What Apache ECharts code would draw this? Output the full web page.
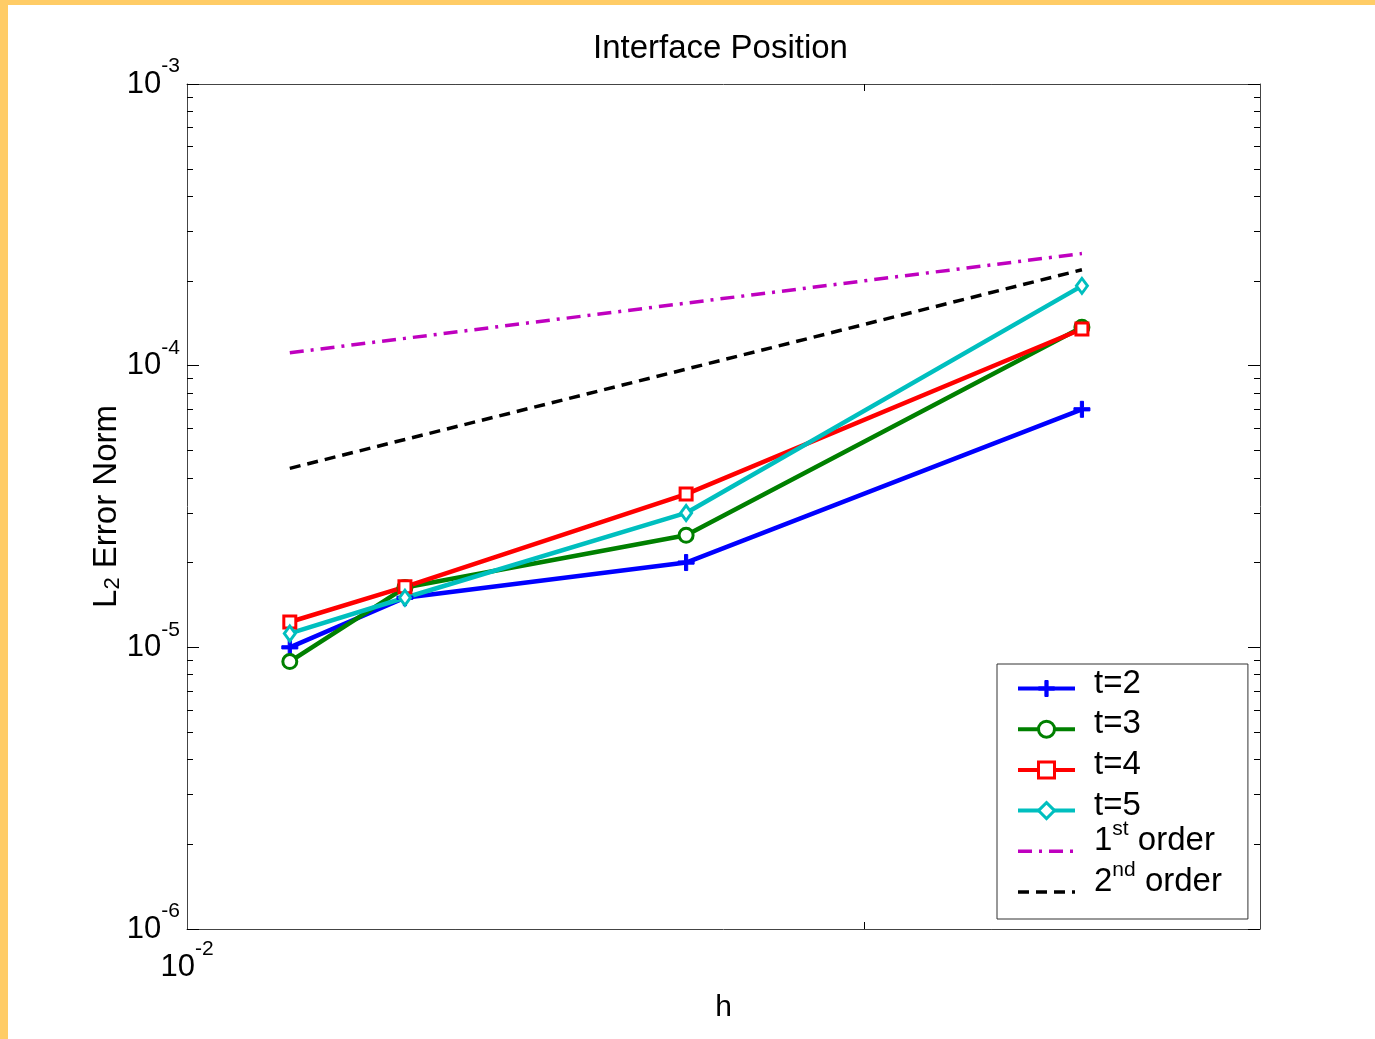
<!DOCTYPE html>
<html>
<head>
<meta charset="utf-8">
<script src="https://cdn.jsdelivr.net/npm/echarts@6/dist/echarts.min.js"></script>
<style>
html, body { margin: 0; padding: 0; background: #FFCC66; }
#chart { position: absolute; left: 8px; top: 5px; width: 1367px; height: 1034px; background: #fff; }
</style>
</head>
<body>
<div id="chart"></div>
<script>
// grid spacing h and L2 error for each time
var h = [0.01111, 0.0125, 0.01667, 0.025];
var err_t2 = [1.0e-5, 1.5e-5, 2.0e-5, 7.0e-5];
var err_t3 = [0.89e-5, 1.63e-5, 2.5e-5, 1.37e-4];
var err_t4 = [1.23e-5, 1.64e-5, 3.5e-5, 1.35e-4];
var err_t5 = [1.12e-5, 1.5e-5, 3.0e-5, 1.92e-4];
var first_order = [1.111e-4, 1.25e-4, 1.667e-4, 2.5e-4];
var second_order = [4.32e-5, 5.47e-5, 9.72e-5, 2.19e-4];

// ticks
var x_labels = [0.01];
var x_ticks = [0.02];
var y_major = [1e-6, 1e-5, 1e-4, 1e-3];
var y_minor = [2e-6, 3e-6, 4e-6, 5e-6, 6e-6, 7e-6, 8e-6, 9e-6,
               2e-5, 3e-5, 4e-5, 5e-5, 6e-5, 7e-5, 8e-5, 9e-5,
               2e-4, 3e-4, 4e-4, 5e-4, 6e-4, 7e-4, 8e-4, 9e-4];

var font = "'Liberation Sans', Arial, sans-serif";
var axis_color = "#444";

var pow_label = function (v) {
   var e = Math.round(Math.log(v) / Math.LN10);
   return "{b|10}{s|" + e + "}";
};
var pow_rich = {
   b: { fontSize: 31, fontFamily: font, color: "#000", lineHeight: 50 },
   s: { fontSize: 21, fontFamily: font, color: "#000", height: 15, verticalAlign: "top" },
};

var pairs = function (ys) {
   return h.map(function (x, i) { return [x, ys[i]]; });
};

var make_series = function (name, ys, color, symbol, size, dash, width, fill, border) {
   return {
      name: name,
      type: "line",
      data: pairs(ys),
      xAxisIndex: 0,
      yAxisIndex: 0,
      symbol: symbol,
      symbolSize: size,
      showSymbol: symbol !== "none",
      lineStyle: { color: color, width: width, type: dash },
      itemStyle: { color: fill, borderColor: color, borderWidth: border },
      emphasis: { disabled: true },
      animation: false,
   };
};

var plus = "path://M4,0h2v4h4v2h-4v4h-2v-4h-4v-2h4z";

var make_x = function (pos, ticks, len, labels, line) {
   return {
      type: "log", logBase: 10, min: 0.01, max: 0.03, position: pos, gridIndex: 0,
      axisLine: { show: line, lineStyle: { color: axis_color, width: 1 } },
      axisTick: { show: true, inside: true, length: len, customValues: ticks, lineStyle: { color: "#000", width: 1 } },
      axisLabel: labels ? { show: true, customValues: labels, margin: 13, formatter: pow_label, rich: pow_rich } : { show: false },
      splitLine: { show: false },
   };
};
var make_y = function (pos, ticks, len, labels, line) {
   return {
      type: "log", logBase: 10, min: 1e-6, max: 1e-3, position: pos, gridIndex: 0,
      axisLine: { show: line, lineStyle: { color: axis_color, width: 1 } },
      axisTick: { show: true, inside: true, length: len, customValues: ticks, lineStyle: { color: "#000", width: 1 } },
      axisLabel: labels ? { show: true, customValues: labels, margin: 7, formatter: pow_label, rich: pow_rich } : { show: false },
      splitLine: { show: false },
   };
};

var x_bottom = make_x("bottom", x_ticks, 7, x_labels, true);
x_bottom.name = "h";
x_bottom.nameLocation = "middle";
x_bottom.nameGap = 64;
x_bottom.nameMoveOverlap = false;
x_bottom.nameTextStyle = { fontSize: 30, fontFamily: font, color: "#000" };

var y_left = make_y("left", y_major, 12, y_major, true);
y_left.name = "{n|L}{sub|2}{n| Error Norm}";
y_left.nameLocation = "middle";
y_left.nameRotate = 90;
y_left.nameGap = 63;
y_left.nameMoveOverlap = false;
y_left.nameTextStyle = {
   rich: {
      n: { fontSize: 33, fontFamily: font, color: "#000", lineHeight: 34 },
      sub: { fontSize: 22, fontFamily: font, color: "#000", lineHeight: 14, verticalAlign: "bottom" },
   }
};

// every entry carries a superscript token so all items get the same height
var legend_names = {
   "t=2": "{a|t=2}{s| }",
   "t=3": "{a|t=3}{s| }",
   "t=4": "{a|t=4}{s| }",
   "t=5": "{a|t=5}{s| }",
   "1st order": "{o|1}{s|st}{o| order}",
   "2nd order": "{o|2}{s|nd}{o| order}",
};

var option = {
   backgroundColor: "#fff",
   animation: false,
   title: {
      text: "Interface Position",
      left: 580, top: 22,
      textStyle: { fontSize: 33, fontWeight: "normal", fontFamily: font, color: "#000" },
   },
   grid: { left: 179, top: 79, right: 115, bottom: 110, containLabel: false, outerBoundsMode: "none" },
   xAxis: [
      x_bottom,
      make_x("top", x_ticks, 7, null, true),
   ],
   yAxis: [
      y_left,
      make_y("left", y_minor, 6, null, false),
      make_y("right", y_major, 12, null, true),
      make_y("right", y_minor, 6, null, false),
   ],
   legend: {
      orient: "vertical",
      left: 989, top: 659,
      padding: [-8, 26, 3, 19],
      itemWidth: 57, itemHeight: 20, itemGap: -15.8,
      backgroundColor: "#fff",
      borderColor: "#333", borderWidth: 1, borderRadius: 0,
      selectedMode: false,
      lineStyle: { width: 4 },
      itemStyle: { borderWidth: 3 },
      data: [
         { name: "t=2", itemStyle: { borderWidth: 1 } },
         "t=3", "t=4", "t=5",
         { name: "1st order", itemStyle: { opacity: 0 }, lineStyle: { width: 3.5 } },
         { name: "2nd order", itemStyle: { opacity: 0 }, lineStyle: { width: 3.5 } },
      ],
      formatter: function (name) { return legend_names[name]; },
      textStyle: {
         lineHeight: 48,
         padding: [0, 0, 0, 14],
         rich: {
            a: { fontSize: 33, fontFamily: font, color: "#000", lineHeight: 48, height: 38, verticalAlign: "top" },
            o: { fontSize: 33, fontFamily: font, color: "#000", lineHeight: 48, height: 28, verticalAlign: "top" },
            s: { fontSize: 21, fontFamily: font, color: "#000", lineHeight: 48, height: 4, verticalAlign: "top" },
         },
      },
   },
   series: [
      make_series("t=2", err_t2, "#0000FF", plus, 16, "solid", 4.5, "#0000FF", 1),
      make_series("t=3", err_t3, "#008000", "circle", 14, "solid", 4.5, "#fff", 3),
      make_series("t=4", err_t4, "#FF0000", "rect", 12, "solid", 4.5, "#fff", 3),
      make_series("t=5", err_t5, "#00BFBF", "diamond", [11, 15], "solid", 4.5, "#fff", 3),
      make_series("1st order", first_order, "#BF00BF", "none", 0, [14, 7, 3, 7], 3.5, "#BF00BF", 0),
      make_series("2nd order", second_order, "#000000", "none", 0, [11, 7], 3.5, "#000000", 0),
   ],
};

var dom = document.querySelector("#chart");
var myChart = echarts.init(dom);
myChart.setOption(option, true);
</script>
</body>
</html>
